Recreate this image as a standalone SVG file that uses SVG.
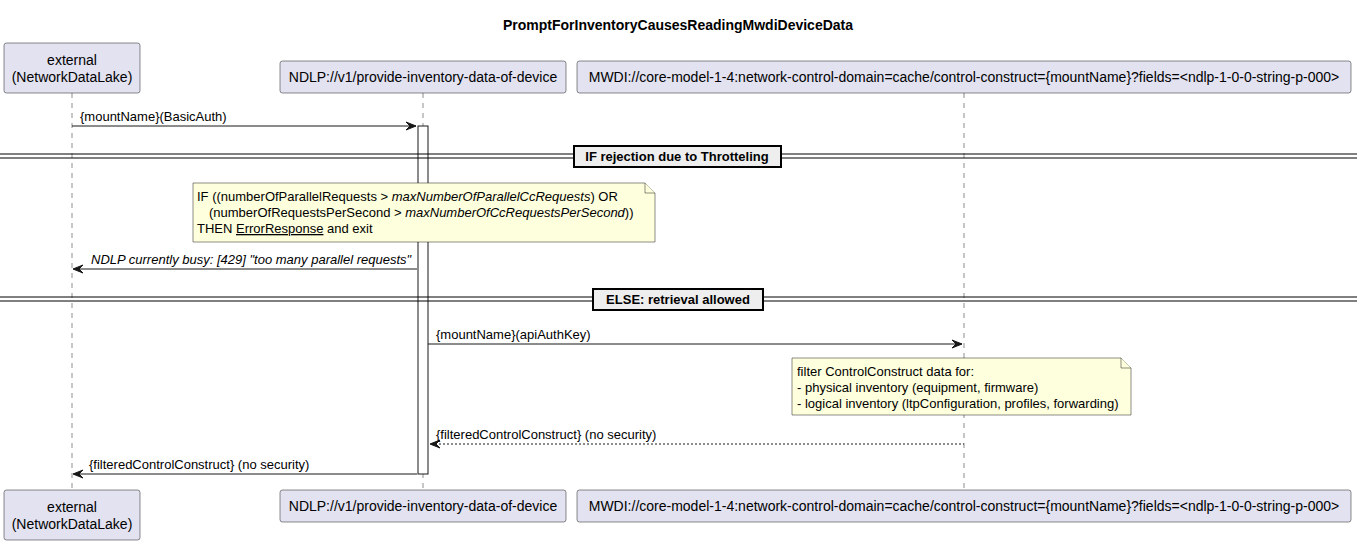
<svg xmlns="http://www.w3.org/2000/svg" width="1362" height="545" viewBox="0 0 1362 545">
<defs>
<style>
.part{fill:#E2E2F0;stroke:#181818;stroke-width:0.5}
.pt{font-family:"Liberation Sans",Arial,sans-serif;font-size:14px;fill:#000;text-anchor:middle}
.life{stroke:#181818;stroke-width:0.5;stroke-dasharray:5,5;fill:none}
.msg{stroke:#181818;stroke-width:1;fill:none}
.dash{stroke:#181818;stroke-width:1;stroke-dasharray:2,2;fill:none}
.head{fill:#181818;stroke:#181818;stroke-width:1}
.mt{font-family:"Liberation Sans",Arial,sans-serif;font-size:13px;fill:#000}
.note{fill:#FEFFDD;stroke:#181818;stroke-width:0.5}
.sep{stroke:#000;stroke-width:1;fill:none}
.sepbox{fill:#EEEEEE;stroke:#000;stroke-width:2}
.st{font-family:"Liberation Sans",Arial,sans-serif;font-size:13px;font-weight:bold;fill:#000;text-anchor:middle}
</style>
</defs>
<rect width="1362" height="545" fill="#FFFFFF"/>
<text x="678" y="30" font-family="Liberation Sans, Arial, sans-serif" font-size="14" font-weight="bold" text-anchor="middle">PromptForInventoryCausesReadingMwdiDeviceData</text>

<g id="lifelines">
<line class="life" x1="72" y1="93" x2="72" y2="490"/>
<line class="life" x1="423" y1="93" x2="423" y2="490"/>
<line class="life" x1="964" y1="93" x2="964" y2="490"/>
</g>

<g id="external">
<rect class="part" x="4" y="43" width="136" height="50" rx="2.5"/>
<text class="pt" x="72" y="65">external</text>
<text class="pt" x="72" y="82">(NetworkDataLake)</text>
<rect class="part" x="4" y="490" width="136" height="50" rx="2.5"/>
<text class="pt" x="72" y="512">external</text>
<text class="pt" x="72" y="529">(NetworkDataLake)</text>
</g>

<g id="ndlp">
<rect class="part" x="280" y="61" width="286" height="32" rx="2.5"/>
<text class="pt" x="423" y="82">NDLP://v1/provide-inventory-data-of-device</text>
<rect class="part" x="280" y="490" width="286" height="32" rx="2.5"/>
<text class="pt" x="423" y="511">NDLP://v1/provide-inventory-data-of-device</text>
</g>

<g id="mwdi">
<rect class="part" x="577" y="61" width="774" height="32" rx="2.5"/>
<text class="pt" x="964" y="82">MWDI://core-model-1-4:network-control-domain=cache/control-construct={mountName}?fields=&lt;ndlp-1-0-0-string-p-000&gt;</text>
<rect class="part" x="577" y="490" width="774" height="32" rx="2.5"/>
<text class="pt" x="964" y="511">MWDI://core-model-1-4:network-control-domain=cache/control-construct={mountName}?fields=&lt;ndlp-1-0-0-string-p-000&gt;</text>
</g>

<g id="activation">
<rect x="418" y="126" width="10" height="348" fill="#FFFFFF" stroke="#181818" stroke-width="1"/>
</g>

<g id="separators">
<line class="sep" x1="0" y1="154" x2="1357" y2="154"/>
<line class="sep" x1="0" y1="158" x2="1357" y2="158"/>
<rect class="sepbox" x="574" y="146" width="207" height="21"/>
<text class="st" x="677" y="161">IF rejection due to Throtteling</text>
<line class="sep" x1="0" y1="297" x2="1357" y2="297"/>
<line class="sep" x1="0" y1="301" x2="1357" y2="301"/>
<rect class="sepbox" x="593" y="289" width="170" height="21"/>
<text class="st" x="678" y="304">ELSE: retrieval allowed</text>
</g>

<g id="note1">
<path class="note" d="M193,183 L645,183 L655,193 L655,242 L193,242 Z"/>
<path class="note" d="M645,183 L645,193 L655,193"/>
<text class="mt" x="197" y="201">IF ((numberOfParallelRequests &gt; <tspan font-style="italic">maxNumberOfParallelCcRequests</tspan>) OR</text>
<text class="mt" x="209" y="217">(numberOfRequestsPerSecond &gt; <tspan font-style="italic">maxNumberOfCcRequestsPerSecond</tspan>))</text>
<text class="mt" x="197" y="233">THEN <tspan text-decoration="underline">ErrorResponse</tspan> and exit</text>
</g>

<g id="note2">
<path class="note" d="M792,358 L1121,358 L1131,368 L1131,415 L792,415 Z"/>
<path class="note" d="M1121,358 L1121,368 L1131,368"/>
<text class="mt" x="797" y="376">filter ControlConstruct data for:</text>
<text class="mt" x="797" y="392">- physical inventory (equipment, firmware)</text>
<text class="mt" x="797" y="408">- logical inventory (ltpConfiguration, profiles, forwarding)</text>
</g>

<g id="connectors">
<line class="msg" x1="72" y1="126" x2="416" y2="126"/>
<polygon class="head" points="406,122 416,126 406,130 410,126"/>
<text class="mt" x="80" y="121">{mountName}(BasicAuth)</text>

<line class="msg" x1="74" y1="269" x2="417" y2="269"/>
<polygon class="head" points="83,265 73,269 83,273 79,269"/>
<text class="mt" x="91" y="264" font-style="italic">NDLP currently busy: [429] "too many parallel requests"</text>

<line class="msg" x1="428" y1="344" x2="962" y2="344"/>
<polygon class="head" points="952,340 962,344 952,348 956,344"/>
<text class="mt" x="436" y="339">{mountName}(apiAuthKey)</text>

<line class="dash" x1="431" y1="444" x2="964" y2="444"/>
<polygon class="head" points="440,440 430,444 440,448 436,444"/>
<text class="mt" x="436" y="439">{filteredControlConstruct} (no security)</text>

<line class="msg" x1="74" y1="474" x2="417" y2="474"/>
<polygon class="head" points="83,470 73,474 83,478 79,474"/>
<text class="mt" x="89" y="469">{filteredControlConstruct} (no security)</text>
</g>
</svg>
